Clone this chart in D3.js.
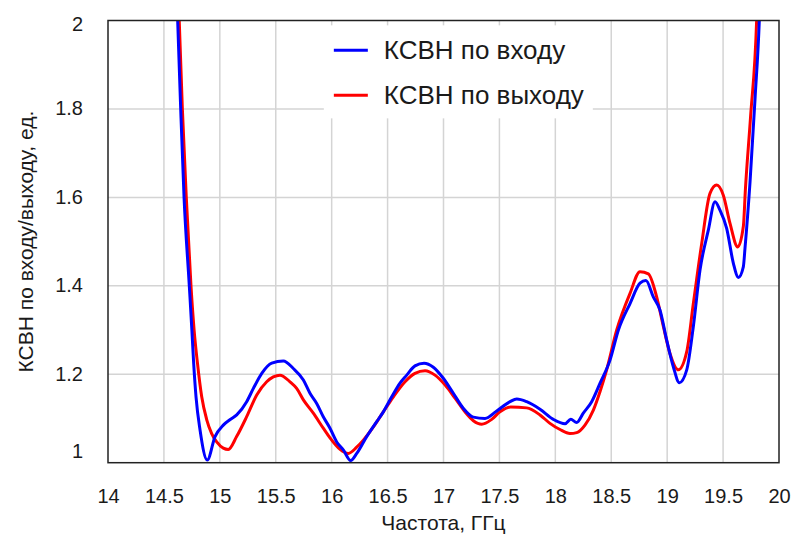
<!DOCTYPE html>
<html>
<head>
<meta charset="utf-8">
<script src="https://cdn.jsdelivr.net/npm/d3@7"></script>
<style>
  body { margin: 0; background: #fff; }
  text { font-family: "Liberation Sans", Arial, sans-serif; fill: #1a1a1a; }
</style>
</head>
<body>
<svg id="chart" width="795" height="534"></svg>
<script>
// КСВН по входу (blue)
const inFreq = [14.612, 14.623, 14.650, 14.680, 14.727, 14.750, 14.766, 14.787, 14.823, 14.888,
  14.957, 15.031, 15.09, 15.151, 15.24, 15.30, 15.375, 15.464, 15.568, 15.657,
  15.747, 15.806, 15.866, 15.925, 15.985, 16.045, 16.104, 16.170, 16.224, 16.313,
  16.403, 16.462, 16.537, 16.611, 16.671, 16.745, 16.826, 16.909, 16.998, 17.088,
  17.177, 17.267, 17.371, 17.476, 17.595, 17.655, 17.744, 17.863, 17.982, 18.087,
  18.138, 18.191, 18.25, 18.325, 18.40, 18.489, 18.564, 18.668, 18.757, 18.81,
  18.876, 18.936, 18.996, 19.055, 19.109, 19.175, 19.234, 19.294, 19.368, 19.428,
  19.472, 19.532, 19.592, 19.637, 19.681, 19.696, 19.741, 19.786, 19.824, 19.835];
const inVswr = [2.08, 2.00, 1.80, 1.60, 1.40, 1.30, 1.225, 1.149, 1.074, 1.006,
  1.059, 1.085, 1.097, 1.108, 1.138, 1.168, 1.202, 1.225, 1.230, 1.213,
  1.187, 1.157, 1.134, 1.104, 1.078, 1.047, 1.029, 1.005, 1.021, 1.059,
  1.093, 1.115, 1.149, 1.180, 1.198, 1.219, 1.225, 1.216, 1.191, 1.157,
  1.123, 1.103, 1.100, 1.117, 1.138, 1.144, 1.138, 1.121, 1.098, 1.088,
  1.098, 1.091, 1.112, 1.138, 1.180, 1.232, 1.300, 1.360, 1.406, 1.412,
  1.375, 1.345, 1.277, 1.217, 1.181, 1.210, 1.308, 1.436, 1.526, 1.590,
  1.571, 1.530, 1.451, 1.419, 1.443, 1.485, 1.635, 1.824, 2.00, 2.08];

// КСВН по выходу (red)
const outFreq = [14.627, 14.637, 14.665, 14.700, 14.742, 14.770, 14.800, 14.838, 14.883, 14.927,
  14.972, 15.031, 15.076, 15.15, 15.24, 15.33, 15.419, 15.478, 15.538, 15.627,
  15.687, 15.747, 15.836, 15.925, 15.985, 16.075, 16.149, 16.224, 16.283, 16.373,
  16.462, 16.552, 16.656, 16.745, 16.835, 16.924, 17.013, 17.103, 17.192, 17.267,
  17.342, 17.431, 17.505, 17.60, 17.744, 17.863, 17.952, 18.042, 18.131, 18.191,
  18.265, 18.34, 18.40, 18.459, 18.549, 18.668, 18.757, 18.832, 18.906, 18.966,
  19.025, 19.10, 19.175, 19.234, 19.309, 19.383, 19.443, 19.502, 19.562, 19.631,
  19.681, 19.70, 19.745, 19.80, 19.81];
const outVswr = [2.08, 2.00, 1.80, 1.60, 1.40, 1.300, 1.225, 1.149, 1.097, 1.066,
  1.047, 1.033, 1.030, 1.059, 1.104, 1.153, 1.183, 1.194, 1.198, 1.183,
  1.168, 1.142, 1.112, 1.078, 1.056, 1.030, 1.021, 1.035, 1.051, 1.081,
  1.115, 1.149, 1.183, 1.202, 1.208, 1.198, 1.176, 1.146, 1.115, 1.095,
  1.087, 1.098, 1.115, 1.126, 1.124, 1.108, 1.089, 1.075, 1.066, 1.068,
  1.085, 1.119, 1.161, 1.210, 1.300, 1.383, 1.432, 1.427, 1.375, 1.308,
  1.247, 1.210, 1.251, 1.360, 1.496, 1.609, 1.628, 1.605, 1.541, 1.488,
  1.534, 1.62, 1.78, 2.00, 2.08];

const xTicks = [14, 14.5, 15, 15.5, 16, 16.5, 17, 17.5, 18, 18.5, 19, 19.5, 20];
const yTicks = [1, 1.2, 1.4, 1.6, 1.8, 2];
const legendLabels = ['КСВН по входу', 'КСВН по выходу'];
const colors = ['#0000ff', '#ff0000'];

const svg = d3.select('#chart');
const margin = { top: 20.5, right: 16, bottom: 71.3, left: 108 };
const width = 795 - margin.left - margin.right;
const height = 534 - margin.top - margin.bottom;

const x = d3.scaleLinear().domain([14, 20]).range([0, width]);
const y = d3.scaleLinear().domain([1, 2]).range([height, 0]);

const g = svg.append('g').attr('transform', `translate(${margin.left},${margin.top})`);

// grid
g.append('g')
  .selectAll('line.vg').data(xTicks.slice(1, -1)).enter().append('line')
  .attr('x1', d => x(d)).attr('x2', d => x(d)).attr('y1', 0).attr('y2', height)
  .attr('stroke', '#d4d4d4').attr('stroke-width', 1.5);
g.append('g')
  .selectAll('line.hg').data(yTicks.slice(1, -1)).enter().append('line')
  .attr('x1', 0).attr('x2', width).attr('y1', d => y(d)).attr('y2', d => y(d))
  .attr('stroke', '#d4d4d4').attr('stroke-width', 1.5);

// axes labels (tick text only)
const xAxis = g.append('g')
  .attr('transform', `translate(0,${height})`)
  .call(d3.axisBottom(x).tickValues(xTicks).tickSize(0).tickPadding(26).tickFormat(d3.format('')));
xAxis.select('.domain').remove();
xAxis.selectAll('text').attr('font-size', '20px').attr('font-family', null).attr('fill', '#1a1a1a');

const yAxis = g.append('g')
  .call(d3.axisLeft(y).tickValues(yTicks).tickSize(0).tickPadding(25).tickFormat(d3.format('')));
yAxis.select('.domain').remove();
// top and bottom labels sit inside the frame height
yAxis.selectAll('.tick')
  .attr('transform', d => `translate(0,${Math.min(Math.max(y(d), 4.5), height - 11)})`);
yAxis.selectAll('text').attr('font-size', '20px').attr('font-family', null).attr('fill', '#1a1a1a');

// clip
svg.append('defs').append('clipPath').attr('id', 'plotclip')
  .append('rect').attr('width', width).attr('height', height);

const line = d3.line().x(d => x(d[0])).y(d => y(d[1])).curve(d3.curveMonotoneX);
const outData = outFreq.map((f, i) => [f, outVswr[i]]);
const inData = inFreq.map((f, i) => [f, inVswr[i]]);

const curves = g.append('g').attr('clip-path', 'url(#plotclip)');
curves.append('path').datum(outData).attr('d', line)
  .attr('fill', 'none').attr('stroke', colors[1]).attr('stroke-width', 3).attr('stroke-linejoin', 'round');
curves.append('path').datum(inData).attr('d', line)
  .attr('fill', 'none').attr('stroke', colors[0]).attr('stroke-width', 3).attr('stroke-linejoin', 'round');

// frame
g.append('rect').attr('width', width).attr('height', height)
  .attr('fill', 'none').attr('stroke', '#222').attr('stroke-width', 1.5);

// legend
const leg = g.append('g').attr('transform', `translate(${x(15.93)},${y(1.989)})`);
leg.append('rect').attr('width', 269).attr('height', 93).attr('fill', '#fff');
legendLabels.forEach((lab, i) => {
  const row = leg.append('g').attr('transform', `translate(0,${25 + i * 45})`);
  row.append('line').attr('x1', 10).attr('x2', 44).attr('y1', 0).attr('y2', 0)
    .attr('stroke', colors[i]).attr('stroke-width', 3);
  row.append('text').attr('x', 60).attr('y', 9).attr('font-size', '26px').text(lab);
});

// titles
svg.append('text')
  .attr('x', margin.left + width / 2).attr('y', 530)
  .attr('text-anchor', 'middle').attr('font-size', '21px')
  .text('Частота, ГГц');
svg.append('text')
  .attr('transform', `translate(33,${margin.top + height / 2}) rotate(-90)`)
  .attr('text-anchor', 'middle').attr('font-size', '21px')
  .text('КСВН по входу/выходу, ед.');
</script>
</body>
</html>
